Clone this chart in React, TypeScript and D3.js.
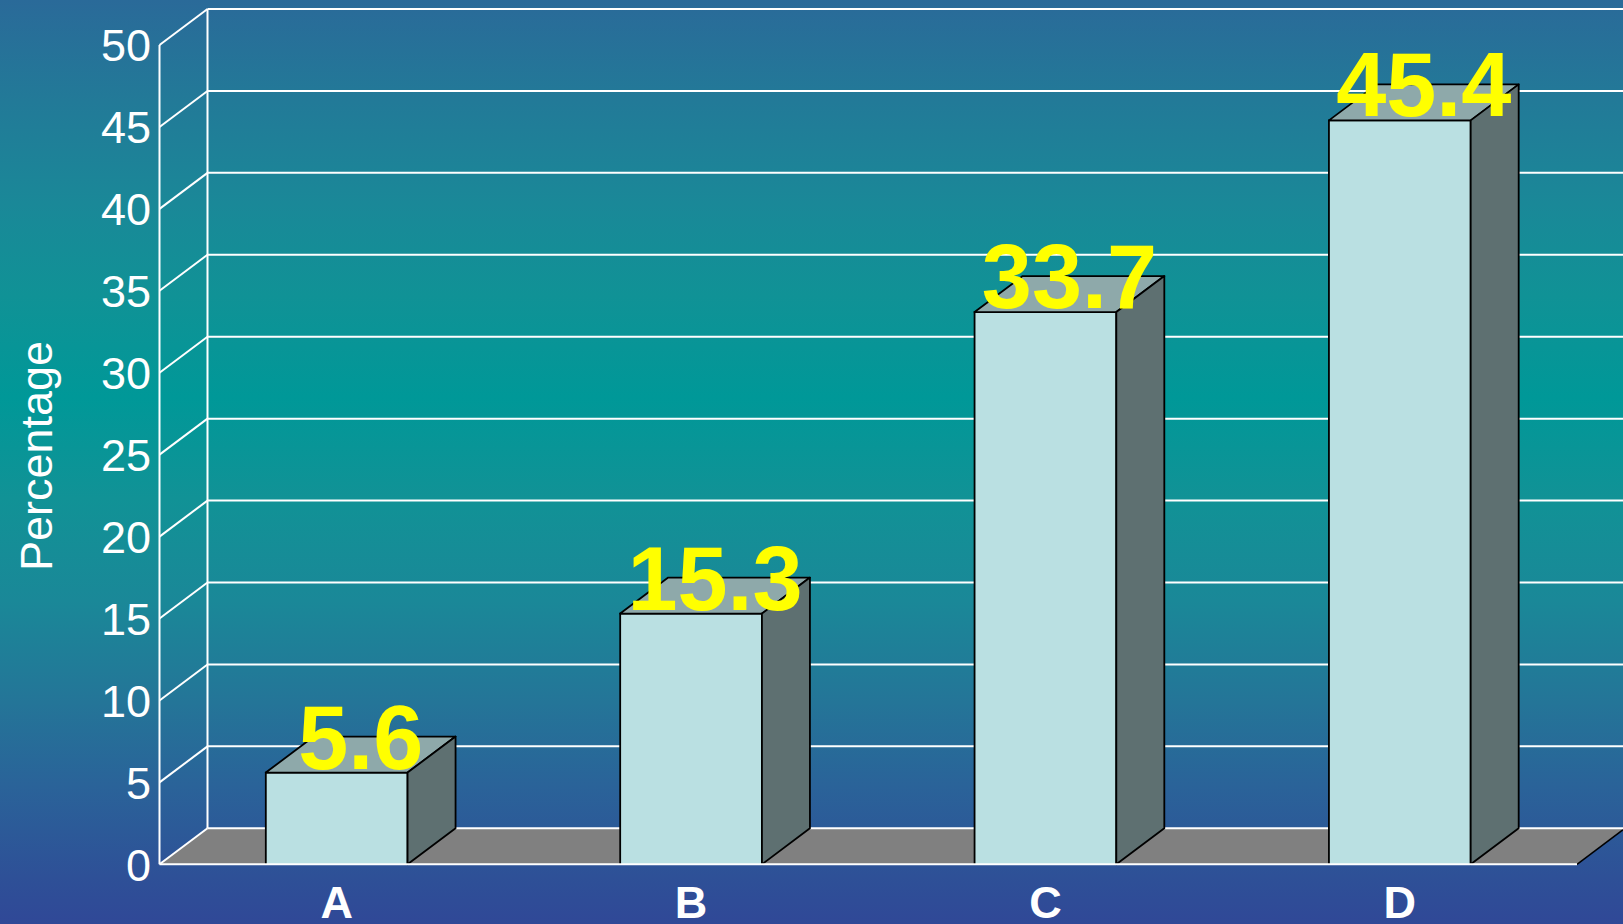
import React from "react";
import * as d3 from "d3";

const categories = ["A", "B", "C", "D"];
const values = [5.6, 15.3, 33.7, 45.4];
const yTicks = [0, 5, 10, 15, 20, 25, 30, 35, 40, 45, 50];
const yLabel = "Percentage";

const W = 1623;
const H = 924;
const DX = 48;
const DY = -36;
const FONT = "'Liberation Sans', Arial, Helvetica, sans-serif";

export default function App() {
  const y = d3.scaleLinear().domain([0, 50]).range([864.3, 45]);
  const x = d3
    .scaleBand<string>()
    .domain(categories)
    .range([159.5, 1577])
    .paddingInner(0.6)
    .paddingOuter(0.3);
  const band = x.bandwidth();
  const y0 = y(0);
  const xLeft = 159.5;
  const xRight = 1577;

  return (
    <svg
      width={W}
      height={H}
      style={{ position: "fixed", left: 0, top: 0, display: "block" }}
      fontFamily={FONT}
    >
      <defs>
        <linearGradient id="bg" x1="0" y1="0" x2="0" y2="1">
          <stop offset="0" stopColor="#2a6a99" />
          <stop offset="0.11" stopColor="#227a98" />
          <stop offset="0.22" stopColor="#1a8898" />
          <stop offset="0.32" stopColor="#109296" />
          <stop offset="0.43" stopColor="#009898" />
          <stop offset="0.54" stopColor="#119296" />
          <stop offset="0.65" stopColor="#1a8898" />
          <stop offset="0.76" stopColor="#247598" />
          <stop offset="0.85" stopColor="#2a6399" />
          <stop offset="0.95" stopColor="#2e5097" />
          <stop offset="1" stopColor="#304897" />
        </linearGradient>
      </defs>
      <rect x={0} y={0} width={W} height={H} fill="url(#bg)" />

      {/* floor */}
      <path
        d={`M${xLeft},${y0} L${xLeft + DX},${y0 + DY} L${xRight + DX},${y0 + DY} L${xRight},${y0} Z`}
        fill="#808080"
      />
      <line
        x1={xRight}
        y1={y0}
        x2={xRight + DX}
        y2={y0 + DY}
        stroke="#000"
        strokeWidth={1.5}
      />

      {/* back wall gridlines */}
      {yTicks.map((t) => (
        <line
          key={"g" + t}
          x1={xLeft + DX}
          x2={W + 10}
          y1={y(t) + DY}
          y2={y(t) + DY}
          stroke="#fff"
          strokeWidth={2}
        />
      ))}
      <line
        x1={xLeft + DX}
        x2={xLeft + DX}
        y1={y(50) + DY}
        y2={y0 + DY}
        stroke="#fff"
        strokeWidth={2}
      />
      {/* side wall diagonals */}
      {yTicks.map((t) => (
        <line
          key={"d" + t}
          x1={xLeft}
          y1={y(t)}
          x2={xLeft + DX}
          y2={y(t) + DY}
          stroke="#fff"
          strokeWidth={2}
        />
      ))}
      <line x1={xLeft} x2={xLeft} y1={y(50)} y2={y0} stroke="#fff" strokeWidth={2} />

      {/* bars */}
      {categories.map((c, i) => {
        const x0 = x(c) as number;
        const x1 = x0 + band;
        const yt = y(values[i]);
        return (
          <g key={"b" + c}>
            <rect x={x0} y={yt} width={band} height={y0 - yt} fill="#bae0e2" />
            <path
              d={`M${x0},${y0} L${x0},${yt} L${x1},${yt} L${x1},${y0}`}
              fill="none"
              stroke="#000"
              strokeWidth={1.8}
            />
            <path
              d={`M${x0},${yt} L${x1},${yt} L${x1 + DX},${yt + DY} L${x0 + DX},${yt + DY} Z`}
              fill="#8ea9aa"
              stroke="#000"
              strokeWidth={1.8}
              strokeLinejoin="round"
            />
            <path
              d={`M${x1},${y0} L${x1},${yt} L${x1 + DX},${yt + DY} L${x1 + DX},${y0 + DY} Z`}
              fill="#5e7071"
              stroke="#000"
              strokeWidth={1.8}
              strokeLinejoin="round"
            />
          </g>
        );
      })}

      {/* front edge */}
      <line x1={xLeft} x2={xRight} y1={y0} y2={y0} stroke="#fff" strokeWidth={2} />

      {/* value labels */}
      {categories.map((c, i) => {
        const cx = (x(c) as number) + band / 2 + DX / 2;
        const yt = y(values[i]);
        return (
          <text
            key={"v" + c}
            x={cx}
            y={yt - 4}
            textAnchor="middle"
            fontSize={90}
            fontWeight="bold"
            fill="#ffff00"
          >
            {values[i].toFixed(1)}
          </text>
        );
      })}

      {/* y tick labels */}
      {yTicks.map((t) => (
        <text
          key={"t" + t}
          x={151}
          y={y(t)}
          dy="0.36em"
          textAnchor="end"
          fontSize={45}
          fill="#fff"
        >
          {t}
        </text>
      ))}

      {/* category labels */}
      {categories.map((c) => (
        <text
          key={"c" + c}
          x={(x(c) as number) + band / 2}
          y={918}
          textAnchor="middle"
          fontSize={45}
          fontWeight="bold"
          fill="#fff"
        >
          {c}
        </text>
      ))}

      <text
        transform={`translate(52,456) rotate(-90)`}
        textAnchor="middle"
        fontSize={45}
        fill="#fff"
      >
        {yLabel}
      </text>
    </svg>
  );
}
